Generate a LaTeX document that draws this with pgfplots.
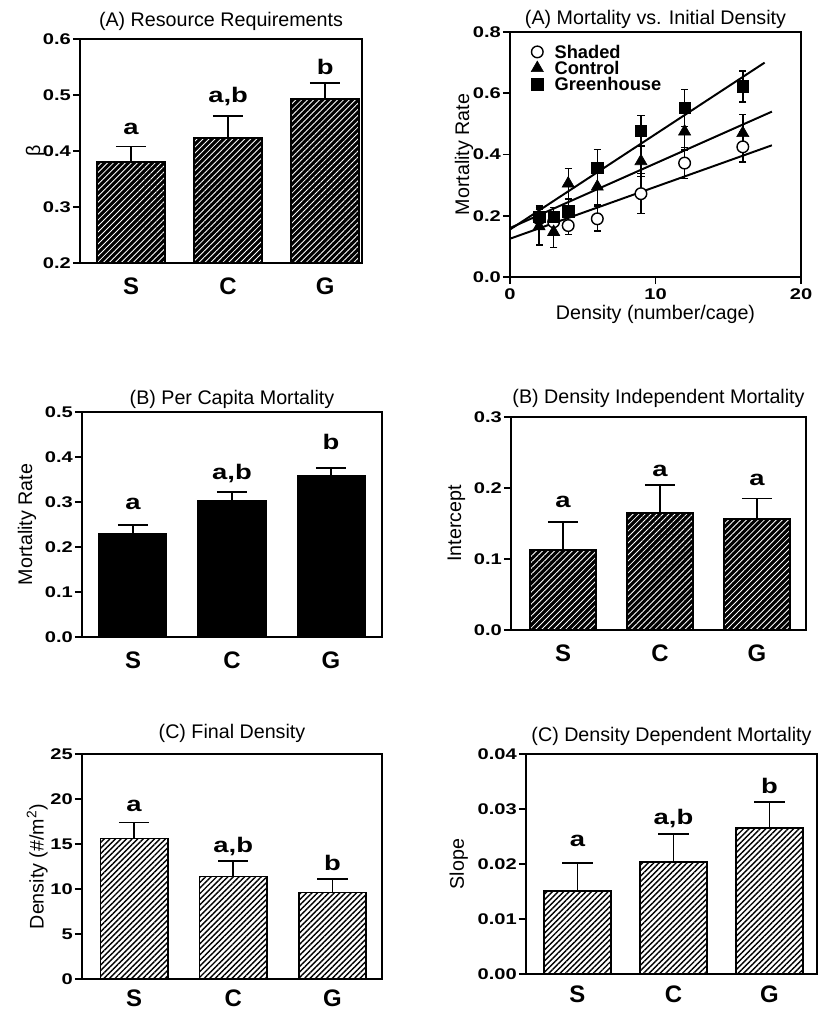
\documentclass[border=0pt]{standalone}
\usepackage{fontspec}
\setmainfont{Liberation Sans}
\newfontfamily\heavy{Liberation Sans}[FakeStretch=1.3]
\usepackage{pgfplots}
\pgfplotsset{compat=1.18}
\usetikzlibrary{patterns.meta}

\newcommand\tickf{\heavy\bfseries\fontsize{11}{11}\selectfont}
\newcommand\letf{\heavy\bfseries\fontsize{15}{15}\selectfont}
\newcommand\catf{\bfseries\fontsize{17}{17}\selectfont}
\newcommand\titf{\fontsize{14}{14}\selectfont}

\tikzset{sig/.style={font=\letf, anchor=base}}
\pgfplotsset{
  panel/.style={scale only axis, anchor=south west,
    axis line style={line width=1.2pt},
    tick style={line width=1.2pt, black},
    tick align=outside, major tick length=5pt,
    xtick pos=bottom, ytick pos=left,
    scaled ticks=false,
    title style={font=\titf, inner sep=3pt},
    label style={font=\titf},
    ticklabel style={font=\tickf},
    yticklabel style={xshift=2pt},
    /pgf/number format/assume math mode=true},
  prec/.style={yticklabel style={/pgf/number format/fixed, /pgf/number format/fixed zerofill,
    /pgf/number format/precision=#1}},
  barpanel/.style={panel, ybar, xtick={0,1,2}, xticklabels={S,C,G},
    xticklabel style={font=\catf, inner sep=0pt, yshift=-5pt}, major x tick style={draw=none}},
  errs/.style={error bars/.cd, y dir=plus, y explicit,
    error bar style={line width=1.2pt, black},
    error mark options={rotate=90, line width=1.2pt, black, mark size=3.8mm}},
  dots/.style={error bars/.cd, y dir=both, y explicit,
    error bar style={line width=1pt, black},
    error mark options={rotate=90, line width=1pt, black, mark size=0.9mm}},
  darkbar/.style={draw=black, line width=1.2pt, fill=black,
    postaction={pattern={Lines[angle=45,distance=3pt,line width=0.6pt]}, pattern color=white}},
  hatchbar/.style={draw=black, line width=1.2pt, fill=white,
    postaction={pattern={Lines[angle=45,distance=2.8pt,line width=1pt]}, pattern color=black}},
}

\begin{document}
\begin{tikzpicture}
\useasboundingbox (0,0) rectangle (207.25mm,252.5mm);

% (A) Resource Requirements
\begin{axis}[barpanel, at={(20mm,186.75mm)}, width=70.5mm, height=56mm,
  xmin=-0.526, xmax=2.38, ymin=0.2, ymax=0.6, ytick={0.2,0.3,0.4,0.5,0.6}, prec=1,
  bar width=0.7, title={(A) Resource Requirements}, title style={yshift=-1.2mm},
  ylabel={β}, ylabel style={yshift=-2.75mm}]
\addplot[darkbar, errs] coordinates {(0,0.380) +- (0,0.028) (1,0.423) +- (0,0.040) (2,0.493) +- (0,0.028)};
\node[sig] at (axis cs:0,0.429) {a};
\node[sig] at (axis cs:1,0.486) {a,b};
\node[sig] at (axis cs:2,0.537) {b};
\end{axis}

% (A) Mortality vs. Initial Density
\begin{axis}[panel, at={(127.5mm,183.25mm)}, width=72.75mm, height=61.25mm,
  xmin=0, xmax=20, ymin=0, ymax=0.8, xtick={0,10,20}, ytick={0,0.2,0.4,0.6,0.8}, prec=1,
  title={(A) Mortality vs. Initial Density}, title style={yshift=-2.3mm},
  xlabel={Density (number/cage)}, xlabel style={yshift=1mm},
  ylabel={Mortality Rate}, ylabel style={yshift=-2.5mm},
  legend style={at={(0.072,0.95)}, anchor=north west, draw=none, fill=none,
    font=\bfseries\fontsize{13}{13}\selectfont, row sep=1pt, column sep=7.5pt, inner sep=0pt,
    nodes={inner sep=0.5pt, text height=9.5pt, text depth=0pt}},
  legend cell align=left]
\addplot[only marks, mark=*, mark options={fill=white, draw=black, line width=1pt}, mark size=1.45mm, dots]
  coordinates {(2,0.19) +- (0,0.03) (3,0.18) +- (0,0.03) (4,0.168) +- (0,0.03) (6,0.19) +- (0,0.04)
               (9,0.272) +- (0,0.065) (12,0.372) +- (0,0.05) (16,0.425) +- (0,0.05)};
\addlegendentry{Shaded}
\addplot[only marks, mark=triangle*, mark options={fill=black, draw=black}, mark size=1.75mm, dots]
  coordinates {(2,0.165) +- (0,0.06) (3,0.147) +- (0,0.05) (4,0.305) +- (0,0.05) (6,0.295) +- (0,0.06)
               (9,0.378) +- (0,0.05) (12,0.475) +- (0,0.06) (16,0.47) +- (0,0.06)};
\addlegendentry{Control}
\addplot[only marks, mark=square*, mark options={fill=black, draw=black}, mark size=1.45mm, dots]
  coordinates {(2,0.197) +- (0,0.035) (3,0.197) +- (0,0.03) (4,0.215) +- (0,0.04) (6,0.357) +- (0,0.06)
               (9,0.477) +- (0,0.05) (12,0.552) +- (0,0.06) (16,0.622) +- (0,0.05)};
\addlegendentry{Greenhouse}
\addplot[black, line width=1.4pt, forget plot] coordinates {(0,0.125) (18,0.43)};
\addplot[black, line width=1.4pt, forget plot] coordinates {(0,0.160) (18,0.54)};
\addplot[black, line width=1.4pt, forget plot] coordinates {(0,0.155) (17.5,0.70)};
\end{axis}

% (B) Per Capita Mortality
\begin{axis}[barpanel, at={(20.5mm,93.25mm)}, width=75mm, height=56.25mm,
  xmin=-0.515, xmax=2.515, ymin=0, ymax=0.5, ytick={0,0.1,0.2,0.3,0.4,0.5}, prec=1,
  bar width=0.68, title={(B) Per Capita Mortality}, title style={yshift=-2.5mm},
  ylabel={Mortality Rate}, ylabel style={yshift=-0.25mm}]
\addplot[draw=black, line width=1.2pt, fill=black, errs] coordinates {(0,0.229) +- (0,0.020) (1,0.302) +- (0,0.020) (2,0.358) +- (0,0.018)};
\node[sig] at (axis cs:0,0.284) {a};
\node[sig] at (axis cs:1,0.351) {a,b};
\node[sig] at (axis cs:2,0.416) {b};
\end{axis}

% (B) Density Independent Mortality
\begin{axis}[barpanel, at={(127.75mm,95mm)}, width=73.75mm, height=53.25mm,
  xmin=-0.536, xmax=2.505, ymin=0, ymax=0.3, ytick={0,0.1,0.2,0.3}, prec=1,
  bar width=0.68, title={(B) Density Independent Mortality}, title style={yshift=-1mm},
  ylabel={Intercept}, ylabel style={yshift=-0.25mm}]
\addplot[darkbar, errs] coordinates {(0,0.113) +- (0,0.039) (1,0.165) +- (0,0.039) (2,0.156) +- (0,0.029)};
\node[sig] at (axis cs:0,0.172) {a};
\node[sig] at (axis cs:1,0.216) {a};
\node[sig] at (axis cs:2,0.204) {a};
\end{axis}

% (C) Final Density
\begin{axis}[barpanel, at={(20.5mm,7.75mm)}, width=75mm, height=56.25mm,
  xmin=-0.525, xmax=2.5, ymin=0, ymax=25, ytick={0,5,10,15,20,25},
  xticklabel style={yshift=2.5pt},
  bar width=0.68, title={(C) Final Density}, title style={yshift=-0.5mm},
  ylabel={Density (\#/m\textsuperscript{2})}, ylabel style={yshift=-1.75mm}]
\addplot[hatchbar, errs] coordinates {(0,15.6) +- (0,1.8) (1,11.4) +- (0,1.7) (2,9.6) +- (0,1.5)};
\node[sig] at (axis cs:0,18.6) {a};
\node[sig] at (axis cs:1,14.0) {a,b};
\node[sig] at (axis cs:2,12.0) {b};
\end{axis}

% (C) Density Dependent Mortality
\begin{axis}[barpanel, at={(131.5mm,9mm)}, width=72.75mm, height=55mm,
  xmin=-0.536, xmax=2.495, ymin=0, ymax=0.04, ytick={0,0.01,0.02,0.03,0.04}, prec=2,
  xticklabel style={yshift=2pt},
  bar width=0.7, title={(C) Density Dependent Mortality}, title style={yshift=-1.2mm},
  ylabel={Slope}]
\addplot[hatchbar, errs] coordinates {(0,0.0151) +- (0,0.0051) (1,0.0204) +- (0,0.0051) (2,0.0265) +- (0,0.0048)};
\node[sig] at (axis cs:0,0.0231) {a};
\node[sig] at (axis cs:1,0.0271) {a,b};
\node[sig] at (axis cs:2,0.0329) {b};
\end{axis}
\end{tikzpicture}
\end{document}
